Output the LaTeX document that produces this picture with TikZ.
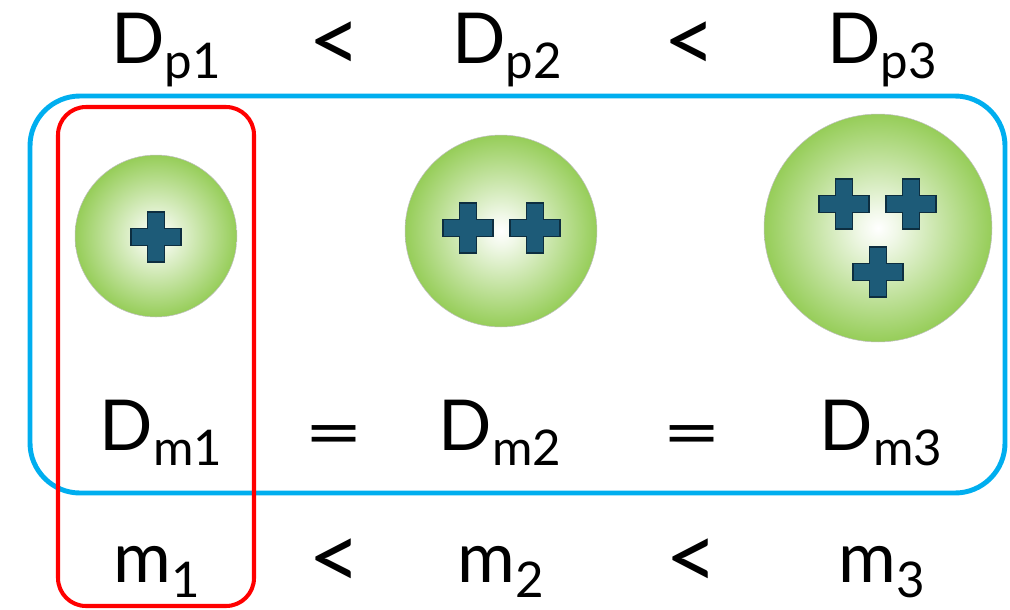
\documentclass[tikz,border=0pt]{standalone}
\usepackage{fontspec}
\setmainfont{Lato}
\usepackage{graphicx}
\usepackage{tikz}
\definecolor{ballgreen}{HTML}{89C744}
\definecolor{chargeblue}{HTML}{1D5B78}
\definecolor{chargeedge}{HTML}{0D2E40}
\definecolor{boxblue}{HTML}{00AEEF}
\definecolor{boxred}{HTML}{FF0000}
\pgfdeclareradialshading{greenglow}{\pgfpoint{0bp}{0bp}}{color(0bp)=(white); color(4bp)=(ballgreen!12!white); color(13bp)=(ballgreen!45!white); color(28bp)=(ballgreen); color(50bp)=(ballgreen)}
\newcommand{\lowsub}[1]{\raisebox{-9pt}{\fontsize{28}{30}\selectfont #1}}

\begin{document}
\begin{tikzpicture}[x=.02cm,y=-.02cm,
  txt/.style={anchor=base,inner sep=0pt,font=\fontsize{40}{44}\selectfont},
  rel/.style={anchor=base,inner sep=0pt,text height=.8cm,text depth=0pt,font=\fontsize{52}{56}\selectfont},
  ball/.style={circle,shading=greenglow,draw=black!25,line width=.3pt,inner sep=0pt},
  bluebox/.style={draw=boxblue,line width=2.8pt,rounded corners=1cm},
  redbox/.style={draw=boxred,line width=2.3pt,rounded corners=.56cm},
  charge/.pic={\draw[fill=chargeblue,draw=chargeedge,line width=.8pt]
    (-8.5,-25) -- (8.5,-25) -- (8.5,-8.5) -- (25,-8.5) -- (25,8.5) -- (8.5,8.5)
    -- (8.5,25) -- (-8.5,25) -- (-8.5,8.5) -- (-25,8.5) -- (-25,-8.5) -- (-8.5,-8.5) -- cycle;}]
  \useasboundingbox (0,0) rectangle (1010,609);
  % groups
  \draw[bluebox] (30,96) rectangle (1005,493);
  \draw[redbox] (58,107) rectangle (254,606);
  % top row
  \node[txt] (dp1) at (166,63) {D\lowsub{p1}};
  \node[rel] (ltA) at (335,72) {<};
  \node[txt] (dp2) at (507,63) {D\lowsub{p2}};
  \node[rel] (ltB) at (690,72) {<};
  \node[txt] (dp3) at (882,63) {D\lowsub{p3}};
  % ions
  \node[ball,minimum size=3.24cm] (ion1) at (156,236) {};
  \node[ball,minimum size=3.84cm] (ion2) at (501,231) {};
  \node[ball,minimum size=4.56cm] (ion3) at (878,228) {};
  \pic at (156,237) {charge};
  \pic at (468,228) {charge};
  \pic at (535,228) {charge};
  \pic at (844,204) {charge};
  \pic at (911,204) {charge};
  \pic at (878,272) {charge};
  % mobility row
  \node[txt] (dm1) at (161,450) {D\lowsub{m1}};
  \node[txt] (eqA) at (334,457) {\scalebox{1.45}[1]{=}};
  \node[txt] (dm2) at (500,450) {D\lowsub{m2}};
  \node[txt] (eqB) at (692,457) {\scalebox{1.45}[1]{=}};
  \node[txt] (dm3) at (881,450) {D\lowsub{m3}};
  % mass row
  \node[txt] (m1) at (157,582) {m\lowsub{1}};
  \node[rel] (ltC) at (335,589) {<};
  \node[txt] (m2) at (501,582) {m\lowsub{2}};
  \node[rel] (ltD) at (692,589) {<};
  \node[txt] (m3) at (882,582) {m\lowsub{3}};
\end{tikzpicture}
\end{document}
